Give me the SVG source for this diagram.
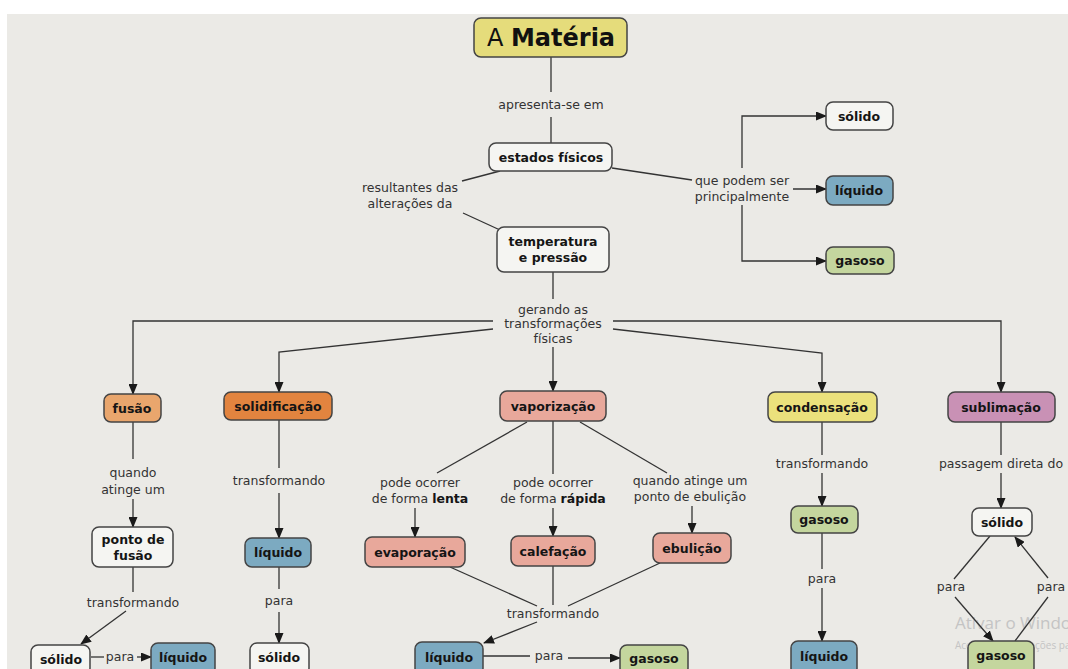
<svg xmlns="http://www.w3.org/2000/svg" width="1068" height="669" viewBox="0 0 1068 669">
<defs>
<marker id="arr" markerUnits="userSpaceOnUse" markerWidth="11" markerHeight="9" refX="10" refY="4.5" orient="auto">
<path d="M0,0 L11,4.5 L0,9 z" fill="#1a1a1a"/>
</marker>
<style>
.bx{stroke:#444;stroke-width:1.5}
.w{fill:#f5f5f2}
.y{fill:#e5dc7b}
.b{fill:#7caac1}
.g{fill:#c4d69e}
.s{fill:#e8a89b}
.o1{fill:#e9a66d}
.o2{fill:#e2843f}
.c{fill:#ebe17c}
.m{fill:#c991b5}
.t{font-family:"DejaVu Sans","Verdana",sans-serif;font-size:12.5px;font-weight:bold;fill:#151515;text-anchor:middle}
.l{font-family:"DejaVu Sans","Verdana",sans-serif;font-size:12.5px;fill:#333;text-anchor:middle}
#conn line,#conn polyline{stroke:#333;stroke-width:1.3;fill:none}
.a{marker-end:url(#arr)}
</style>
</defs>
<rect x="0" y="0" width="1068" height="669" fill="#ffffff"/>
<rect x="7" y="14" width="1061" height="655" fill="#ebeae6"/>

<g id="watermark" font-family="'Open Sans','DejaVu Sans',sans-serif" fill="#c4c4c4">
<text x="955" y="629" font-size="17">Ativar o Windows</text>
<text x="955" y="649" font-size="10">Acesse Configurações para ativar o Windows.</text>
</g>

<g id="conn">
<line x1="551" y1="57" x2="551" y2="92"/>
<line x1="551" y1="117" x2="551" y2="143"/>
<line x1="500" y1="171" x2="462" y2="181"/>
<line x1="463" y1="213" x2="500" y2="230"/>
<line x1="612" y1="168" x2="692" y2="180"/>
<polyline class="a" points="742,168 742,116 826,116"/>
<line class="a" x1="793" y1="189" x2="826" y2="189"/>
<polyline class="a" points="742,205 742,261 826,261"/>
<line x1="553" y1="272" x2="553" y2="299"/>
<polyline class="a" points="493,321 133,321 133,394"/>
<polyline class="a" points="493,329 279,352 279,392"/>
<line class="a" x1="553" y1="347" x2="553" y2="391"/>
<polyline class="a" points="613,329 822,353 822,392"/>
<polyline class="a" points="613,321 1001,321 1001,392"/>
<line x1="133" y1="422" x2="133" y2="459"/>
<line class="a" x1="133" y1="499" x2="133" y2="527"/>
<line x1="133" y1="567" x2="133" y2="592"/>
<line class="a" x1="126" y1="611" x2="81" y2="644"/>
<line x1="91" y1="657" x2="104" y2="657"/>
<line class="a" x1="137" y1="657" x2="151" y2="657"/>
<line x1="279" y1="420" x2="279" y2="468"/>
<line class="a" x1="279" y1="493" x2="279" y2="538"/>
<line x1="279" y1="567" x2="279" y2="589"/>
<line class="a" x1="279" y1="612" x2="279" y2="643"/>
<line x1="527" y1="422" x2="437" y2="473"/>
<line x1="553" y1="421" x2="553" y2="474"/>
<line x1="580" y1="422" x2="667" y2="473"/>
<line class="a" x1="415" y1="508" x2="415" y2="537"/>
<line class="a" x1="553" y1="508" x2="553" y2="536"/>
<line class="a" x1="692" y1="506" x2="692" y2="533"/>
<line x1="450" y1="567" x2="537" y2="606"/>
<line x1="553" y1="566" x2="553" y2="605"/>
<line x1="660" y1="563" x2="568" y2="606"/>
<line class="a" x1="537" y1="622" x2="484" y2="643"/>
<line x1="483" y1="656" x2="530" y2="656"/>
<line class="a" x1="568" y1="658" x2="620" y2="658"/>
<line x1="822" y1="422" x2="822" y2="455"/>
<line class="a" x1="822" y1="473" x2="822" y2="506"/>
<line x1="822" y1="533" x2="822" y2="569"/>
<line class="a" x1="822" y1="588" x2="822" y2="641"/>
<line x1="1001" y1="422" x2="1001" y2="455"/>
<line class="a" x1="1001" y1="473" x2="1001" y2="508"/>
<line x1="990" y1="536" x2="954" y2="579"/>
<line class="a" x1="955" y1="597" x2="993" y2="641"/>
<line x1="1015" y1="641" x2="1048" y2="597"/>
<line class="a" x1="1048" y1="578" x2="1015" y2="537"/>
</g>

<g id="labels">
<text class="l" x="551" y="109">apresenta-se em</text>
<text class="l" x="410" y="192">resultantes das</text>
<text class="l" x="410" y="208">alterações da</text>
<text class="l" x="742" y="185">que podem ser</text>
<text class="l" x="742" y="201">principalmente</text>
<text class="l" x="553" y="314">gerando as</text>
<text class="l" x="553" y="328">transformações</text>
<text class="l" x="553" y="343">físicas</text>
<text class="l" x="133" y="477">quando</text>
<text class="l" x="133" y="494">atinge um</text>
<text class="l" x="133" y="607">transformando</text>
<text class="l" x="120" y="661">para</text>
<text class="l" x="279" y="485">transformando</text>
<text class="l" x="279" y="605">para</text>
<text class="l" x="420" y="487">pode ocorrer</text>
<text class="l" x="420" y="503">de forma <tspan font-weight="bold" fill="#151515">lenta</tspan></text>
<text class="l" x="553" y="487">pode ocorrer</text>
<text class="l" x="553" y="503">de forma <tspan font-weight="bold" fill="#151515">rápida</tspan></text>
<text class="l" x="690" y="485">quando atinge um</text>
<text class="l" x="690" y="501">ponto de ebulição</text>
<text class="l" x="553" y="618">transformando</text>
<text class="l" x="549" y="660">para</text>
<text class="l" x="822" y="468">transformando</text>
<text class="l" x="822" y="583">para</text>
<text class="l" x="1001" y="468">passagem direta do</text>
<text class="l" x="951" y="591">para</text>
<text class="l" x="1051" y="591">para</text>
</g>

<g id="n-materia"><rect class="bx y" x="474" y="18" width="153" height="39" rx="7"/>
<text x="551" y="46" text-anchor="middle" font-family="'DejaVu Sans',Verdana,sans-serif" font-size="24" fill="#111">A <tspan font-weight="bold">Matéria</tspan></text></g>
<g id="n-estados"><rect class="bx w" x="489" y="143" width="123" height="28" rx="7"/><text class="t" x="551" y="161.5">estados físicos</text></g>
<g id="n-temp"><rect class="bx w" x="497" y="227" width="112" height="45" rx="7"/><text class="t" x="553" y="246">temperatura</text><text class="t" x="553" y="262">e pressão</text></g>
<g id="n-solido1"><rect class="bx w" x="826" y="102" width="67" height="28" rx="7"/><text class="t" x="859" y="120.5">sólido</text></g>
<g id="n-liquido1"><rect class="bx b" x="826" y="176" width="67" height="29" rx="7"/><text class="t" x="859" y="195">líquido</text></g>
<g id="n-gasoso1"><rect class="bx g" x="826" y="247" width="68" height="27" rx="7"/><text class="t" x="860" y="265">gasoso</text></g>

<g id="n-fusao"><rect class="bx o1" x="104" y="394" width="57" height="28" rx="7"/><text class="t" x="132" y="412.5">fusão</text></g>
<g id="n-solidificacao"><rect class="bx o2" x="224" y="392" width="108" height="28" rx="7"/><text class="t" x="278" y="410.5">solidificação</text></g>
<g id="n-vaporizacao"><rect class="bx s" x="500" y="391" width="106" height="30" rx="7"/><text class="t" x="553" y="410.5">vaporização</text></g>
<g id="n-condensacao"><rect class="bx c" x="768" y="392" width="109" height="30" rx="7"/><text class="t" x="822" y="411.5">condensação</text></g>
<g id="n-sublimacao"><rect class="bx m" x="948" y="392" width="107" height="30" rx="7"/><text class="t" x="1001" y="411.5">sublimação</text></g>

<g id="n-pontofusao"><rect class="bx w" x="92" y="527" width="81" height="40" rx="7"/><text class="t" x="133" y="544">ponto de</text><text class="t" x="133" y="560">fusão</text></g>
<g id="n-solido2"><rect class="bx w" x="31" y="645" width="59" height="30" rx="7"/><text class="t" x="61" y="664">sólido</text></g>
<g id="n-liquido2"><rect class="bx b" x="151" y="643" width="64" height="32" rx="7"/><text class="t" x="183" y="662">líquido</text></g>

<g id="n-liquido3"><rect class="bx b" x="245" y="538" width="66" height="29" rx="7"/><text class="t" x="278" y="557">líquido</text></g>
<g id="n-solido3"><rect class="bx w" x="250" y="643" width="59" height="32" rx="7"/><text class="t" x="279" y="662">sólido</text></g>

<g id="n-evaporacao"><rect class="bx s" x="365" y="537" width="100" height="30" rx="7"/><text class="t" x="415" y="556.5">evaporação</text></g>
<g id="n-calefacao"><rect class="bx s" x="511" y="536" width="84" height="30" rx="7"/><text class="t" x="553" y="555.5">calefação</text></g>
<g id="n-ebulicao"><rect class="bx s" x="653" y="533" width="78" height="30" rx="7"/><text class="t" x="692" y="552.5">ebulição</text></g>
<g id="n-liquido4"><rect class="bx b" x="415" y="642" width="68" height="33" rx="7"/><text class="t" x="449" y="662">líquido</text></g>
<g id="n-gasoso2"><rect class="bx g" x="620" y="645" width="68" height="30" rx="7"/><text class="t" x="654" y="663">gasoso</text></g>

<g id="n-gasoso3"><rect class="bx g" x="791" y="506" width="67" height="27" rx="7"/><text class="t" x="824" y="524">gasoso</text></g>
<g id="n-liquido5"><rect class="bx b" x="791" y="641" width="66" height="34" rx="7"/><text class="t" x="824" y="661">líquido</text></g>

<g id="n-solido4"><rect class="bx w" x="972" y="508" width="60" height="28" rx="7"/><text class="t" x="1002" y="526.5">sólido</text></g>
<g id="n-gasoso4"><rect class="bx g" x="968" y="641" width="66" height="34" rx="7"/><text class="t" x="1001" y="660">gasoso</text></g>
</svg>
